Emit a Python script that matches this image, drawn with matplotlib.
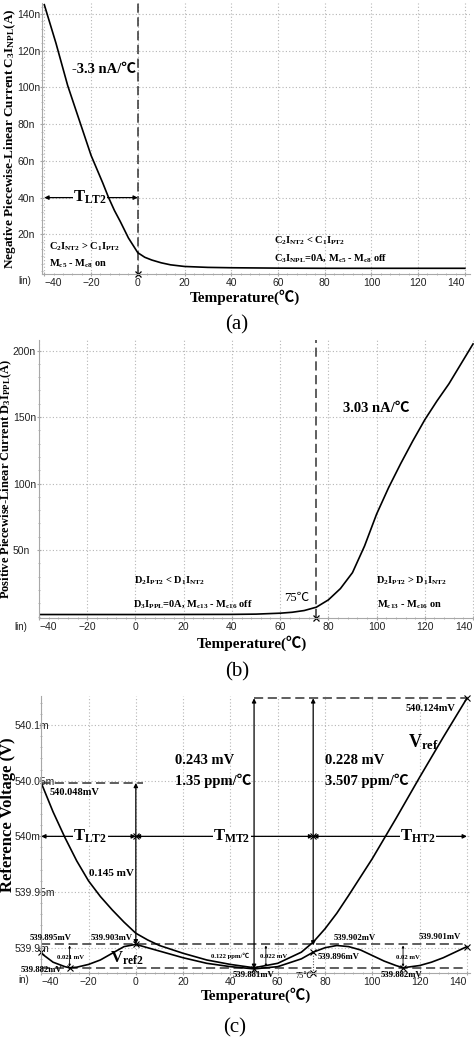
import matplotlib
matplotlib.use("Agg")
import matplotlib.pyplot as plt
from matplotlib.ticker import MultipleLocator

plt.rcParams['font.family'] = ['Liberation Sans', 'DejaVu Sans']
plt.rcParams['mathtext.fontset'] = 'custom'
plt.rcParams['mathtext.rm'] = 'Liberation Serif:bold'
plt.rcParams['mathtext.it'] = 'Liberation Serif:bold'
plt.rcParams['mathtext.bf'] = 'Liberation Serif:bold'
plt.rcParams['mathtext.default'] = 'rm'

SERIF = ['Liberation Serif', 'Noto Sans CJK SC']

# (a) negative piecewise-linear current, nA
a_temp = [-40, -35, -30, -25, -20, -17, -15, -12.5, -10, -7.5, -4, 0, 3, 6, 10, 14, 20, 30, 40,
          60, 80, 100, 120, 140]
a_cur = [145, 124, 101, 82, 63, 54, 48, 40, 33, 27, 18, 10, 7.5, 6, 4.5, 3.4, 2.5, 2.0, 1.8,
         1.6, 1.5, 1.5, 1.5, 1.5]

# (b) positive piecewise-linear current, nA
b_temp = [-40, 0, 40, 50, 60, 65, 70, 75, 80, 85, 90, 95, 100, 105, 110, 115, 120, 125, 130, 135, 140]
b_cur = [1.5, 1.5, 1.6, 1.8, 2.5, 3.2, 4.5, 7, 12.5, 21, 33, 53, 77, 97, 115, 132, 148, 162, 175, 190, 205]

# (c) reference voltages, mV
c_temp = [-40, -35, -30, -25, -20, -15, -10, -5, 0, 5, 10, 20, 30, 40, 50, 60, 70, 75, 80, 85, 90,
          100, 110, 120, 130, 140]
vref = [540.048, 540.022, 539.999, 539.978, 539.960, 539.946, 539.934, 539.923, 539.913, 539.907,
        539.902, 539.895, 539.889, 539.885, 539.882, 539.886, 539.896, 539.905, 539.917, 539.931,
        539.947, 539.980, 540.016, 540.053, 540.089, 540.124]
vref2_temp = [-40, -35, -30, -28, -25, -20, -15, -10, -5, 0, 5, 10, 20, 30, 40, 50, 60, 70, 75, 80,
              85, 90, 95, 100, 105, 110, 113, 120, 125, 130, 135, 140]
vref2 = [539.895, 539.887, 539.883, 539.882, 539.8825, 539.885, 539.889, 539.895, 539.901, 539.903,
         539.900, 539.897, 539.891, 539.886, 539.883, 539.881, 539.883, 539.890, 539.896, 539.900,
         539.902, 539.901, 539.898, 539.893, 539.888, 539.884, 539.882, 539.884, 539.887, 539.891,
         539.896, 539.901]

x_ticks = list(range(-40, 141, 20))
a_yticks = [20, 40, 60, 80, 100, 120, 140]
a_ylabels = ['20n', '40n', '60n', '80n', '100n', '120n', '140n']
b_yticks = [50, 100, 150, 200]
b_ylabels = ['50n', '100n', '150n', '200n']
c_yticks = [539.9, 539.95, 540.0, 540.05, 540.1]
c_ylabels = ['539.9m', '539.95m', '540m', '540.05m', '540.1m']


def style(ax, xlim, ylim, yticks, ylabels, yminor, ypad, lin_text, lin_xy):
    ax.set_xlim(*xlim)
    ax.set_ylim(*ylim)
    ax.set_xticks(x_ticks)
    ax.set_yticks(yticks)
    ax.set_yticklabels(ylabels)
    ax.xaxis.set_minor_locator(MultipleLocator(4))
    ax.yaxis.set_minor_locator(MultipleLocator(yminor))
    ax.grid(True, color='#b5b5b5', linestyle=(0, (1, 2)), linewidth=0.8)
    ax.set_axisbelow(True)
    for s in ['top', 'right']:
        ax.spines[s].set_visible(False)
    for s in ['left', 'bottom']:
        ax.spines[s].set_color('#a8a8a8')
        ax.spines[s].set_linewidth(0.8)
    ax.tick_params(which='major', length=3, color='#a8a8a8', labelsize=7.5, pad=1.5,
                   direction='inout', labelcolor='#222222')
    ax.tick_params(axis='y', which='major', pad=ypad)
    ax.tick_params(which='minor', length=2, color='#a8a8a8', direction='inout')
    for lbl in ax.get_yticklabels():
        lbl.set_ha('left')
    xl = ax.get_xticklabels()
    xl[0].set_ha('left')
    xl[-1].set_ha('right')
    ax.text(lin_xy[0], lin_xy[1], lin_text, transform=ax.transAxes, fontsize=7, ha='center',
            va='center', color='#222222')


def xlab(ax, x, y):
    ax.set_xlabel('Temperature(℃)', family=SERIF, fontweight='bold', fontsize=11)
    ax.xaxis.label.set_va('center')
    ax.xaxis.set_label_coords(x, y)


def ylab(ax, text, x, y, size):
    ax.set_ylabel(text, family=SERIF, fontweight='bold', fontsize=size)
    ax.yaxis.label.set_va('center')
    ax.yaxis.set_label_coords(x, y)


arr = dict(arrowstyle='<|-|>', color='k', lw=0.9, shrinkA=0, shrinkB=0, mutation_scale=6)

fig = plt.figure(figsize=(4.74, 10.62), dpi=100)

# ---------------- (a)
ax = fig.add_axes([0.0886, 0.742, 0.903, 0.2552])
style(ax, (-41, 142.2), (-1.6, 146), a_yticks, a_ylabels, 4, 16, 'lin)', (-0.04, -0.025))
ax.plot(a_temp, a_cur, color='k', lw=1.2, zorder=4)
ax.axvline(0, color='#333333', lw=1.1, ls=(0, (6, 3)))
ax.plot([0], [-1.6], marker='x', color='k', ms=5, mew=0.9, clip_on=False)
ax.text(-28.2, 109.5, '-3.3 nA/℃', family=SERIF, fontweight='bold', fontsize=10.5, va='center')
ax.annotate('', xy=(-40, 40), xytext=(0, 40), arrowprops=arr)
ax.text(-20.4, 40, r'T$_{\mathrm{LT2}}$', family=SERIF, fontweight='bold', fontsize=12,
        ha='center', va='center', bbox=dict(fc='white', ec='none', pad=0.1))
ax.text(-38.2, 13.2, r'C$_2$I$_{NT2}$ > C$_1$I$_{PT2}$', family=SERIF, fontweight='bold',
        fontsize=7.5, va='center')
ax.text(-38, 4.2, r'M$_{c5}$ - M$_{c8}$ on', family=SERIF, fontweight='bold', fontsize=7.5,
        va='center')
ax.text(58.1, 16.5, r'C$_2$I$_{NT2}$ < C$_1$I$_{PT2}$', family=SERIF, fontweight='bold',
        fontsize=7.5, va='center')
ax.text(58.1, 6.9, r'C$_3$I$_{NPL}$=0A, M$_{c5}$ - M$_{c8}$ off', family=SERIF,
        fontweight='bold', fontsize=7.5, va='center')
xlab(ax, 0.473, -0.085)
ylab(ax, r'Negative Piecewise-Linear Current C$_3$I$_{NPL}$(A)', -0.075, 0.5, 9.5)
fig.text(0.5, 1 - 325 / 1062, '(a)', family=SERIF, fontsize=15, ha='center', va='center')

# ---------------- (b)
ax = fig.add_axes([0.0823, 0.4181, 0.9177, 0.2618])
style(ax, (-39.7, 140.4), (-1.1, 208), b_yticks, b_ylabels, 10, 17.3, 'lin)', (-0.041, -0.032))
ax.plot(b_temp, b_cur, color='k', lw=1.2)
ax.axvline(75, color='#333333', lw=1.1, ls=(0, (6, 3)))
ax.plot([75], [-1.1], marker='x', color='k', ms=5, mew=0.9, clip_on=False)
ax.text(86.1, 156.8, '3.03 nA/℃', family=SERIF, fontweight='bold', fontsize=10.5, va='center')
ax.text(-0.8, 27, r'D$_2$I$_{PT2}$ < D$_1$I$_{NT2}$', family=SERIF, fontweight='bold',
        fontsize=7.5, va='center')
ax.text(-1, 9.2, r'D$_3$I$_{PPL}$=0A, M$_{c13}$ - M$_{c16}$ off', family=SERIF,
        fontweight='bold', fontsize=7.5, va='center')
ax.text(61.7, 13.7, '75℃', family=SERIF, fontsize=9, va='center')
ax.text(99.8, 27, r'D$_2$I$_{PT2}$ > D$_1$I$_{NT2}$', family=SERIF, fontweight='bold',
        fontsize=7.5, va='center')
ax.text(100, 8.5, r'M$_{c13}$ - M$_{c16}$ on', family=SERIF, fontweight='bold', fontsize=7.5,
        va='center')
xlab(ax, 0.49, -0.09)
ylab(ax, r'Positive Piecewise-Linear Current D$_3$I$_{PPL}$(A)', -0.075, 0.5, 9)
fig.text(0.5, 1 - 672 / 1062, '(b)', family=SERIF, fontsize=15, ha='center', va='center')

# ---------------- (c)
ax = fig.add_axes([0.0865, 0.0838, 0.905, 0.2608])
style(ax, (-40.1, 141.3), (539.8773, 540.126), c_yticks, c_ylabels, 0.01, 17.3, 'in)',
      (-0.04, -0.025))
dash = dict(color='#333333', lw=1.1, ls=(0, (6, 3)))
ax.plot([-40, 140], [539.903, 539.903], **dash)
ax.plot([-40, 140], [539.882, 539.882], **dash)
ax.plot([-40, 3], [540.048, 540.048], **dash)
ax.plot([50, 140], [540.124, 540.124], **dash)
ax.plot([75, 75], [539.8773, 539.896], color='#555555', lw=0.8, ls=(0, (1, 1.5)))
ax.plot(c_temp, vref, color='k', lw=1.2)
ax.plot(vref2_temp, vref2, color='k', lw=1.2)
for px, py in [(-40, 539.896), (-28, 539.882), (0, 539.903), (50, 539.881), (75, 539.896),
               (113, 539.882), (140, 539.901), (140, 540.124), (75, 539.8773), (0, 540.0),
               (75, 540.0)]:
    ax.plot([px], [py], marker='x', color='k', ms=4.5, mew=0.8, clip_on=False)

ax.annotate('', xy=(0, 539.903), xytext=(0, 540.048), arrowprops=arr)
ax.annotate('', xy=(50, 539.881), xytext=(50, 540.124), arrowprops=arr)
ax.annotate('', xy=(75, 539.902), xytext=(75, 540.124), arrowprops=arr)
small = dict(arrowstyle='<|-|>', color='k', lw=0.6, shrinkA=0, shrinkB=0, mutation_scale=3)
ax.annotate('', xy=(-28, 539.883), xytext=(-28, 539.902), arrowprops=small)
ax.annotate('', xy=(55, 539.883), xytext=(55, 539.902), arrowprops=small)
ax.annotate('', xy=(113, 539.883), xytext=(113, 539.902), arrowprops=small)

ax.annotate('', xy=(-40, 540.0), xytext=(0, 540.0), arrowprops=arr)
ax.annotate('', xy=(0, 540.0), xytext=(75, 540.0), arrowprops=arr)
ax.annotate('', xy=(75, 540.0), xytext=(140, 540.0), arrowprops=arr)
tb = dict(family=SERIF, fontweight='bold', fontsize=12, ha='center', va='center',
          bbox=dict(fc='white', ec='none', pad=0.3))
ax.text(-19.3, 540.0, r'T$_{\mathrm{LT2}}$', **tb)
ax.text(40.6, 540.0, r'T$_{\mathrm{MT2}}$', **tb)
ax.text(119.4, 540.0, r'T$_{\mathrm{HT2}}$', **tb)

big = dict(family=SERIF, fontweight='bold', fontsize=10.5, va='center')
ax.text(16.6, 540.068, '0.243 mV', **big)
ax.text(16.6, 540.050, '1.35 ppm/℃', **big)
ax.text(80, 540.068, '0.228 mV', **big)
ax.text(80, 540.050, '3.507 ppm/℃', **big)
ax.text(-36.5, 540.039, '540.048mV', family=SERIF, fontweight='bold', fontsize=7.5, va='center')
ax.text(-20, 539.967, '0.145 mV', family=SERIF, fontweight='bold', fontsize=8, va='center')
ax.text(124.4, 540.1147, '540.124mV', family=SERIF, fontweight='bold', fontsize=7.5,
        ha='center', va='center')
ax.text(121.5, 540.085, r'V$_{\mathrm{ref}}$', family=SERIF, fontweight='bold', fontsize=13,
        ha='center', va='center')
ax.text(-3.8, 539.8905, r'V$_{\mathrm{ref2}}$', family=SERIF, fontweight='bold', fontsize=12,
        ha='center', va='center')

lab = dict(family=SERIF, fontweight='bold', fontsize=6.3, ha='center', va='center')
ax.text(-36.2, 539.909, '539.895mV', clip_on=False, **lab)
ax.text(-10.1, 539.909, '539.903mV', **lab)
ax.text(-40, 539.8796, '539.882mV', clip_on=False, **lab)
ax.text(49.7, 539.8755, '539.881mV', clip_on=False, **lab)
ax.text(85.6, 539.892, '539.896mV', **lab)
ax.text(92.7, 539.909, '539.902mV', **lab)
ax.text(128.6, 539.9096, '539.901mV', **lab)
ax.text(112.4, 539.8755, '539.882mV', clip_on=False, **lab)
tiny = dict(family=SERIF, fontweight='bold', fontsize=4.8, ha='center', va='center')
ax.text(-27.7, 539.8916, '0.021 mV', **tiny)
ax.text(39.9, 539.893, '0.122 ppm/℃', **tiny)
ax.text(58.2, 539.892, '0.022 mV', **tiny)
ax.text(115.2, 539.8916, '0.02 mV', **tiny)
ax.text(71.1, 539.8745, '75℃', family=SERIF, fontsize=6, ha='center', va='center', clip_on=False)
xlab(ax, 0.50, -0.079)
ylab(ax, 'Reference Voltage (V)', -0.077, 0.57, 12)
fig.text(0.496, 1 - 1028 / 1062, '(c)', family=SERIF, fontsize=15, ha='center', va='center')

fig.savefig('out.png', dpi=100)
